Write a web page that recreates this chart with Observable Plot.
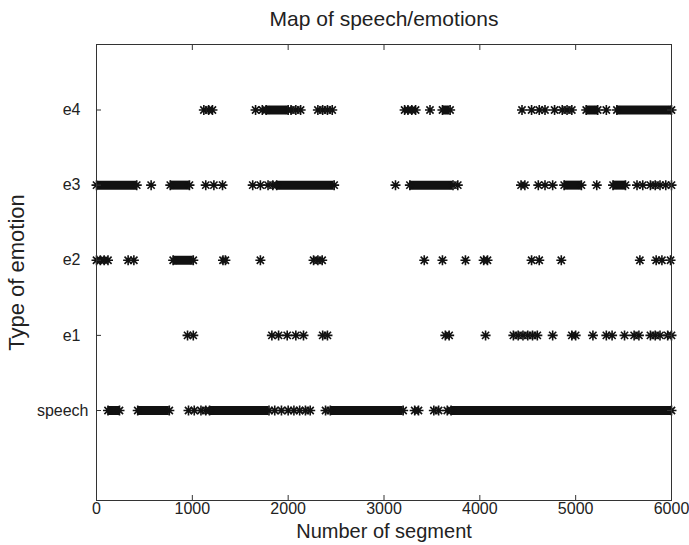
<!DOCTYPE html>
<html><head><meta charset="utf-8">
<script src="https://cdn.jsdelivr.net/npm/d3@7"></script>
<script src="https://cdn.jsdelivr.net/npm/@observablehq/plot@0.6"></script>
<style>body{margin:0;background:#fff}</style>
</head><body><div id="chart"></div>
<script>
const rowLabels = ["speech", "e1", "e2", "e3", "e4"];
const xTicks = [0, 1000, 2000, 3000, 4000, 5000, 6000];

// single star markers per row (segment number)
const speechPoints = [960, 1020, 1090, 1140, 1860, 1930, 2000, 2060, 2120, 2180, 2230, 2390, 3320, 3360, 3520, 3570, 3660];
const e1Points = [950, 1010, 1830, 1900, 1990, 2080, 2160, 2360, 2410, 3640, 3680, 4060, 4350, 4400, 4450, 4500, 4550, 4600, 4760, 4960, 5000, 5180, 5320, 5380, 5510, 5610, 5660, 5780, 5830, 5880, 5960, 6000];
const e2Points = [0, 40, 80, 120, 330, 390, 1320, 1345, 1710, 2265, 2310, 2355, 3420, 3610, 3850, 4040, 4080, 4540, 4620, 4850, 5670, 5840, 5900, 5990];
const e3Points = [570, 1140, 1225, 1315, 1630, 1710, 1790, 1840, 3120, 3770, 4430, 4470, 4610, 4680, 4760, 5220, 5640, 5700, 5780, 5830, 5880, 5940, 6000];
const e4Points = [1120, 1170, 1210, 1660, 1730, 2030, 2080, 2130, 2310, 2360, 2410, 2460, 3215, 3250, 3290, 3330, 3480, 4440, 4540, 4620, 4680, 4780, 4860, 4910, 4960, 5320];

// dense runs of markers that merge into a solid band [first, last]
const speechBands = [[120, 240], [430, 760], [1180, 1800], [2440, 3200], [3700, 6000]];
const e1Bands = [];
const e2Bands = [[800, 1010]];
const e3Bands = [[0, 420], [770, 970], [1880, 2480], [3270, 3720], [4880, 5060], [5390, 5520]];
const e4Bands = [[1770, 2000], [3610, 3690], [5110, 5230], [5430, 6000]];

const pointsByRow = [speechPoints, e1Points, e2Points, e3Points, e4Points];
const bandsByRow = [speechBands, e1Bands, e2Bands, e3Bands, e4Bands];

const pointData = pointsByRow.flatMap((pts, i) => pts.map(x => ({x, y: i + 1})));
const bandData = bandsByRow.flatMap((bs, i) => bs.map(([x1, x2]) => ({x1, x2, y: i + 1})));
const bandEnds = bandData.flatMap(b => [{x: b.x1, y: b.y}, {x: b.x2, y: b.y}]);
const allStars = pointData.concat(bandEnds);

// MATLAB-like '*' marker: plus + times
const star = {
  draw(ctx, size) {
    const r = Math.sqrt(size / Math.PI);
    const d = r * 0.72;
    ctx.moveTo(-r, 0); ctx.lineTo(r, 0);
    ctx.moveTo(0, -r); ctx.lineTo(0, r);
    ctx.moveTo(-d, -d); ctx.lineTo(d, d);
    ctx.moveTo(-d, d); ctx.lineTo(d, -d);
  }
};
const noLabel = () => "";
// MATLAB pads the shorter tick labels to the width of "speech"
const yLabel = d => (d === 1 ? rowLabels[0] : rowLabels[d - 1] + "\u2002");

const chart = Plot.plot({
  width: 689,
  height: 545,
  marginLeft: 96,
  marginRight: 18,
  marginTop: 44,
  marginBottom: 45,
  style: {fontFamily: "'Liberation Sans', Arial, sans-serif", color: "#222", background: "#fff"},
  x: {domain: [0, 6000]},
  y: {domain: [-0.198, 5.872]},
  marks: [
    Plot.ruleY(bandData, {x1: "x1", x2: "x2", y: "y", stroke: "#111", strokeWidth: 9}),
    Plot.dot(allStars, {x: "x", y: "y", symbol: star, r: 5, fill: "none", stroke: "#111", strokeWidth: 1.6}),
    Plot.frame({stroke: "#333"}),
    Plot.axisX({anchor: "bottom", ticks: xTicks, tickSize: 0, tickPadding: 2, tickFormat: d3.format("d"), label: null, fontSize: 16}),
    Plot.axisX({anchor: "bottom", ticks: xTicks, tickSize: 5, dy: -5, tickFormat: noLabel, label: null, stroke: "#333"}),
    Plot.axisX({anchor: "top", ticks: xTicks, tickSize: 5, dy: 5, tickFormat: noLabel, label: null, stroke: "#333"}),
    Plot.axisY({anchor: "left", ticks: [1, 2, 3, 4, 5], tickSize: 0, tickPadding: 8, tickFormat: yLabel, label: null, fontSize: 16}),
    Plot.axisY({anchor: "left", ticks: [1, 2, 3, 4, 5], tickSize: 5, dx: 5, tickFormat: noLabel, label: null, stroke: "#333"}),
    Plot.axisY({anchor: "right", ticks: [1, 2, 3, 4, 5], tickSize: 5, dx: -5, tickFormat: noLabel, label: null, stroke: "#333"}),
    Plot.text(["Map of speech/emotions"], {frameAnchor: "top", lineAnchor: "middle", dy: -25, fontSize: 21, fill: "#222"}),
    Plot.text(["Number of segment"], {frameAnchor: "bottom", lineAnchor: "middle", dy: 31, fontSize: 20, fill: "#222"}),
    Plot.text(["Type of emotion"], {frameAnchor: "left", textAnchor: "middle", lineAnchor: "middle", dx: -80, rotate: -90, fontSize: 22, fill: "#222"})
  ]
});
document.getElementById("chart").appendChild(chart);
</script>
</body></html>
